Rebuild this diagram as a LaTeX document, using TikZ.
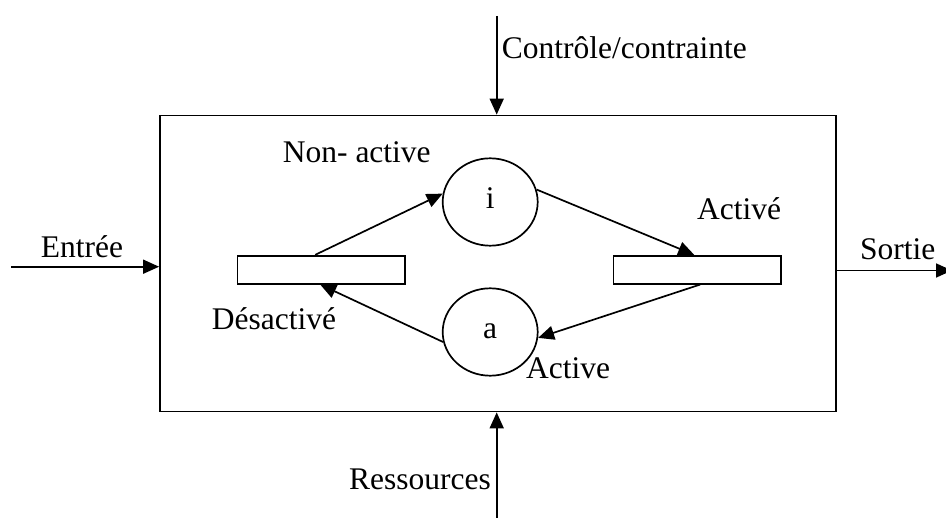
\documentclass[tikz,border=0pt]{standalone}
\usepackage{fontspec}
\setmainfont{Liberation Serif}
\usetikzlibrary{arrows.meta,shapes.geometric}
\begin{document}
\begin{tikzpicture}[x=1pt,y=-1pt,
  every node/.style={font=\fontsize{31.5}{38}\selectfont},
  lbl/.style={anchor=base west,inner sep=0pt},
  arr/.style={line width=1.7pt,-{Triangle[length=16pt,width=14pt]}},
  place/.style={draw,line width=1.7pt,ellipse,minimum width=95pt,minimum height=87.4pt,inner sep=0pt},
  trans/.style={draw,line width=1.7pt,rectangle,minimum width=167.7pt,minimum height=28pt,inner sep=0pt},
  box/.style={draw,line width=1.8pt,rectangle,minimum width=676pt,minimum height=296pt,inner sep=0pt}]
\useasboundingbox (0,0) rectangle (946,518);
\node[box] (box) at (498,263.5) {};
\node[place] (i) at (490.2,202) {};
\node[place] (a) at (490.2,332) {};
\node[anchor=base,inner sep=0pt] (ti) at (490.2,209) {i};
\node[anchor=base,inner sep=0pt] (ta) at (490.2,339) {a};
\node[trans] (lr) at (321.2,269.7) {};
\node[trans] (rr) at (697.2,269.7) {};
% external connectors
\coordinate (ctop) at (496.7,16);
\coordinate (cbot) at (496.7,518);
\coordinate (cin) at (11,266.7);
\coordinate (cout) at (952,270.5);
\draw[arr] (ctop) -- (ctop |- box.north);
\draw[arr] (cbot) -- (cbot |- box.south);
\draw[arr] (cin) -- (cin -| box.west);
\draw[arr] (cout -| box.east) -- (cout);
% internal arcs
\draw[arr] ([xshift=-6pt]lr.north) -- (i.170);
\draw[arr] (i.15) -- ([xshift=-3pt]rr.north);
\draw[arr] ([xshift=3pt]rr.south) -- (a.-7);
\draw[arr] (a.192) -- ([xshift=-1pt]lr.south);
% labels
\node[lbl] (lctl) at (501.7,58.3) {Contrôle/contrainte};
\node[lbl] (lin) at (40.7,258) {Entrée};
\node[lbl] (lout) at (860,260) {Sortie};
\node[lbl] (lres) at (349,490) {Ressources};
\node[lbl] (lna) at (282.7,162.3) {Non- active};
\node[lbl] (lact) at (697,220) {Activé};
\node[lbl] (ldes) at (211.7,330) {Désactivé};
\node[lbl] (lactive) at (526,379) {Active};
\end{tikzpicture}
\end{document}
